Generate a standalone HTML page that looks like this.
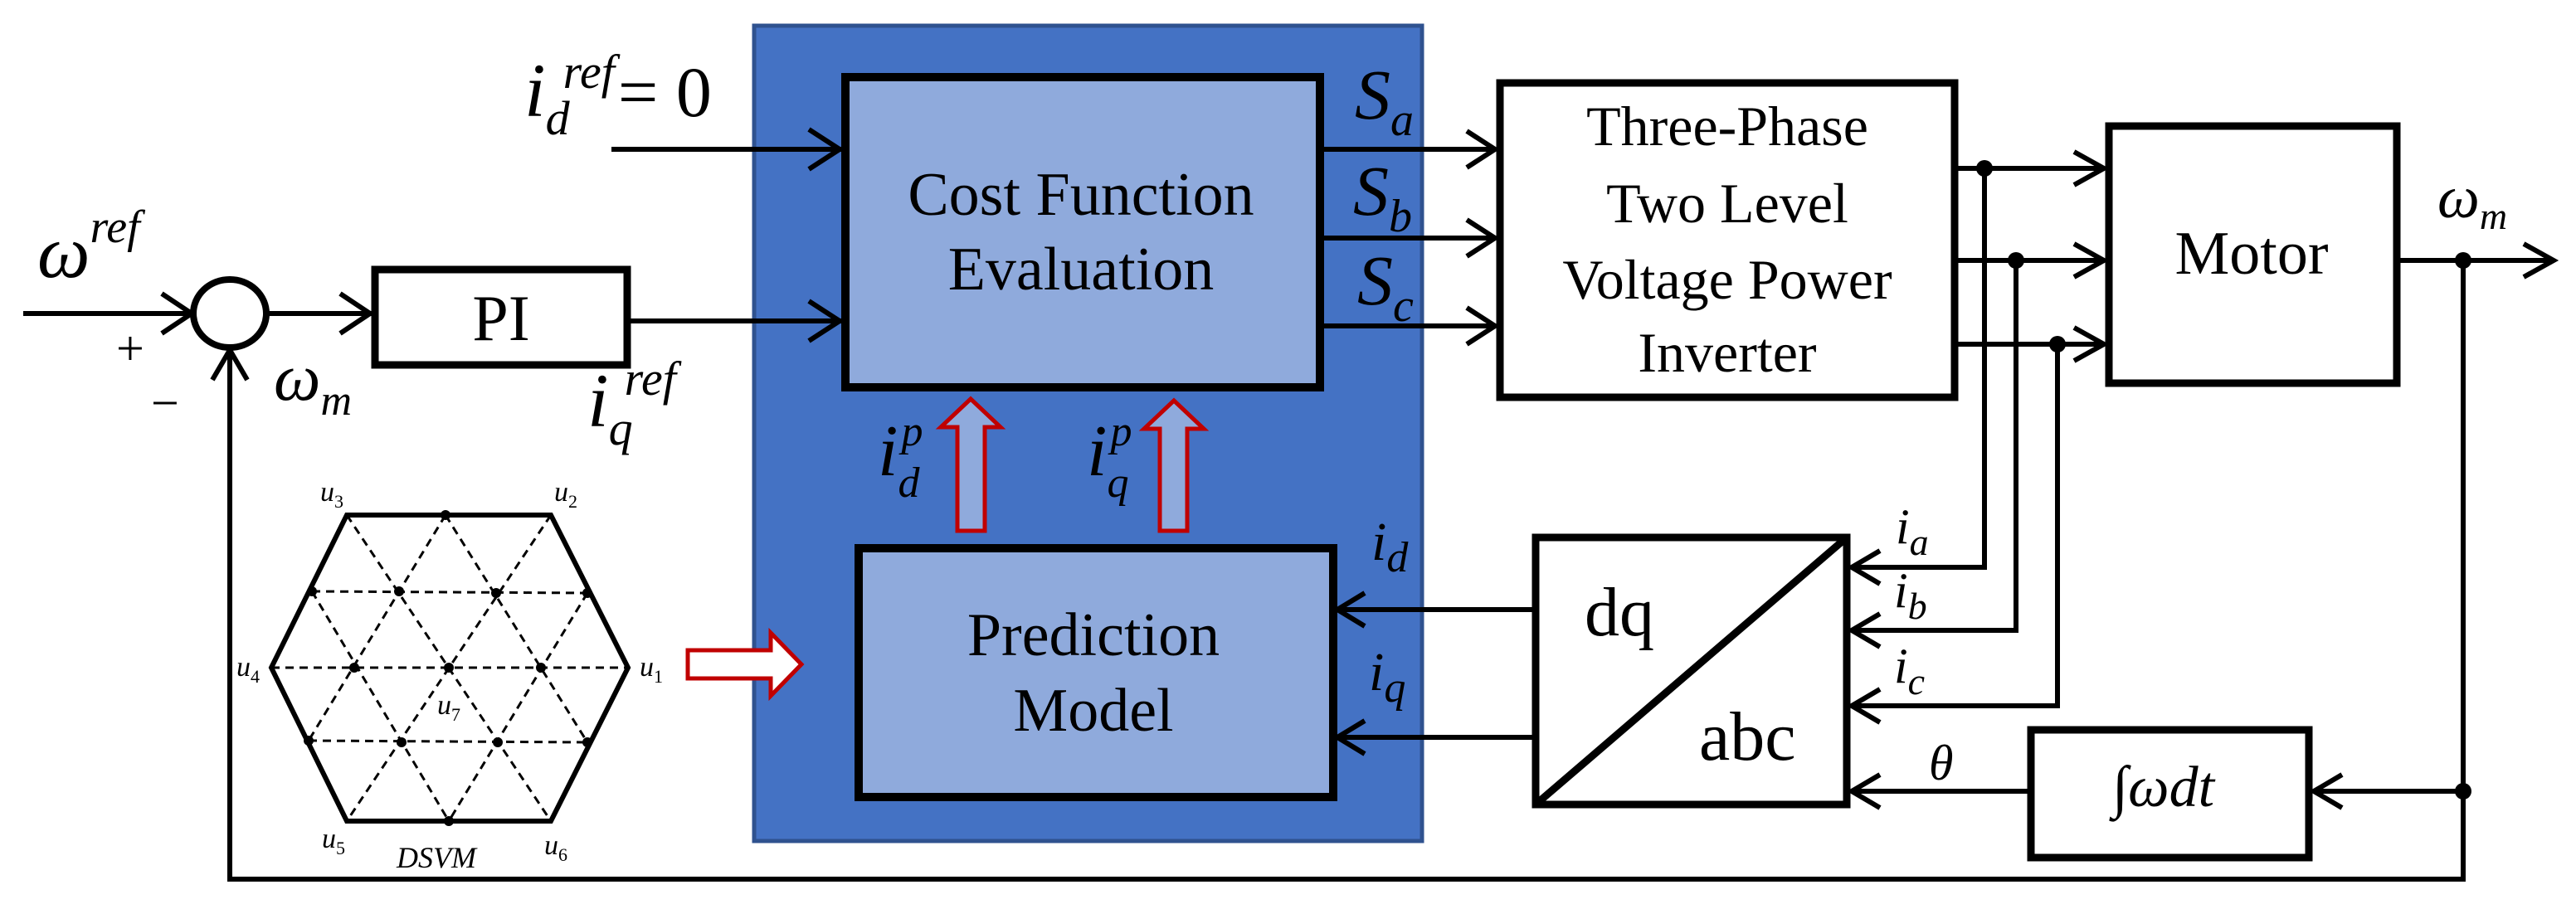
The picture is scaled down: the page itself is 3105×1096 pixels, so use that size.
<!DOCTYPE html>
<html><head><meta charset="utf-8"><style>
html,body{margin:0;padding:0;background:#fff;}
svg{display:block;}
text{font-family:"Liberation Serif","Times New Roman",serif;fill:#000;}
.it{font-style:italic;}
</style></head><body>
<svg width="3105" height="1096" viewBox="0 0 3105 1096" xmlns="http://www.w3.org/2000/svg" font-family="Liberation Serif, serif">
<g fill="none" stroke="#000" stroke-width="6" stroke-linecap="butt">
<rect x="909" y="31" width="805" height="983" fill="#4472C4" stroke="#2F528F" stroke-width="5"/>
<rect x="1019" y="93" width="572" height="374" fill="#8FAADC" stroke-width="10"/>
<rect x="1035" y="661" width="572" height="300" fill="#8FAADC" stroke-width="10"/>
<rect x="452" y="325" width="304" height="115" fill="#fff" stroke-width="9"/>
<ellipse cx="277" cy="378" rx="44" ry="41" stroke-width="8" fill="#fff"/>
<rect x="1808" y="100" width="548" height="379" fill="#fff" stroke-width="9"/>
<rect x="2542" y="152" width="347" height="310" fill="#fff" stroke-width="9"/>
<rect x="1851" y="648" width="375" height="322" fill="#fff" stroke-width="9"/>
<line x1="1851" y1="970" x2="2226" y2="648" stroke-width="9"/>
<rect x="2448" y="880" width="335" height="154" fill="#fff" stroke-width="9"/>

<line x1="28" y1="378" x2="233" y2="378"/>
<polyline points="195,354 231,378 195,402"/>
<line x1="321" y1="378" x2="448" y2="378"/>
<polyline points="410,354 446,378 410,402"/>
<line x1="756" y1="387" x2="1014" y2="387"/>
<polyline points="975,363 1012,387 975,411"/>
<line x1="737" y1="180" x2="1014" y2="180"/>
<polyline points="975,156 1012,180 975,204"/>
<polyline points="277,421 277,1060 2969,1060 2969,314"/>
<polyline points="256,458 277,422 298,458"/>
<line x1="1591" y1="180" x2="1803" y2="180"/>
<polyline points="1768,158 1802,180 1768,202"/>
<line x1="1591" y1="287" x2="1803" y2="287"/>
<polyline points="1768,265 1802,287 1768,309"/>
<line x1="1591" y1="393" x2="1803" y2="393"/>
<polyline points="1768,371 1802,393 1768,415"/>
<line x1="2356" y1="203" x2="2537" y2="203"/>
<polyline points="2500,183 2536,203 2500,223"/>
<line x1="2356" y1="314" x2="2537" y2="314"/>
<polyline points="2500,294 2536,314 2500,334"/>
<line x1="2356" y1="415" x2="2537" y2="415"/>
<polyline points="2500,395 2536,415 2500,435"/>
<polyline points="2392,203 2392,684 2232,684"/>
<polyline points="2266,664 2232,684 2266,704"/>
<polyline points="2430,314 2430,760 2232,760"/>
<polyline points="2266,740 2232,760 2266,780"/>
<polyline points="2480,415 2480,851 2232,851"/>
<polyline points="2266,831 2232,851 2266,871"/>
<line x1="2444" y1="954" x2="2232" y2="954"/>
<polyline points="2266,934 2232,954 2266,974"/>
<line x1="2969" y1="954" x2="2789" y2="954"/>
<polyline points="2823,934 2789,954 2823,974"/>
<line x1="2889" y1="314" x2="3078" y2="314"/>
<polyline points="3042,294 3078,314 3042,334"/>
<line x1="1847" y1="735" x2="1613" y2="735"/>
<polyline points="1645,715 1612,735 1645,755"/>
<line x1="1847" y1="889" x2="1613" y2="889"/>
<polyline points="1645,869 1612,889 1645,909"/>
</g>
<g fill="#000">
<circle cx="2392" cy="203" r="10"/><circle cx="2430" cy="314" r="10"/><circle cx="2480" cy="415" r="10"/>
<circle cx="2969" cy="314" r="10"/><circle cx="2969" cy="954" r="10"/>
</g>
<g fill="#8FAADC" stroke="#C00000" stroke-width="5">
<polygon points="1154,640 1187,640 1187,515 1206,515 1170,481 1134,515 1154,515"/>
<polygon points="1398,640 1431,640 1431,517 1451,517 1415,483 1379,517 1398,517"/>
<polygon points="829,784 929,784 929,763 966,801 929,839 929,818 829,818" fill="#fff"/>
</g>
<!-- hexagon -->
<g fill="none" stroke="#000">
<polygon points="327,805 418,621 664,621 757,805 664,990 418,990" stroke-width="6"/>
<g stroke-width="3" stroke-dasharray="10,7">
<line x1="376" y1="713" x2="708" y2="715"/>
<line x1="327" y1="805" x2="757" y2="805"/>
<line x1="372" y1="893" x2="708" y2="895"/>
<line x1="418" y1="621" x2="664" y2="990"/>
<line x1="664" y1="621" x2="418" y2="990"/>
<line x1="537" y1="621" x2="372" y2="893"/>
<line x1="537" y1="621" x2="708" y2="895"/>
<line x1="376" y1="713" x2="541" y2="990"/>
<line x1="708" y1="715" x2="541" y2="990"/>
</g>
</g>
<g fill="#000">
<circle cx="537" cy="621" r="6"/><circle cx="376" cy="713" r="6"/><circle cx="481" cy="713" r="6"/><circle cx="598" cy="715" r="6"/><circle cx="708" cy="715" r="6"/>
<circle cx="427" cy="805" r="6"/><circle cx="541" cy="805" r="6"/><circle cx="652" cy="805" r="6"/>
<circle cx="372" cy="893" r="6"/><circle cx="484" cy="895" r="6"/><circle cx="600" cy="895" r="6"/><circle cx="708" cy="895" r="6"/><circle cx="541" cy="990" r="6"/>
</g>
<g class="it" font-size="34" font-style="italic">
<text x="386" y="604">u<tspan font-size="22" dy="8" font-style="normal">3</tspan></text>
<text x="668" y="604">u<tspan font-size="22" dy="8" font-style="normal">2</tspan></text>
<text x="285" y="815">u<tspan font-size="22" dy="8" font-style="normal">4</tspan></text>
<text x="771" y="815">u<tspan font-size="22" dy="8" font-style="normal">1</tspan></text>
<text x="527" y="861">u<tspan font-size="22" dy="8" font-style="normal">7</tspan></text>
<text x="388" y="1022">u<tspan font-size="22" dy="8" font-style="normal">5</tspan></text>
<text x="656" y="1030">u<tspan font-size="22" dy="8" font-style="normal">6</tspan></text>
<text x="478" y="1046" font-size="36">DSVM</text>
</g>
<g>
<text x="604" y="410" text-anchor="middle" font-size="78">PI</text>
<text x="45" y="334" class="it" font-style="italic" font-size="90">ω<tspan font-size="56" dy="-42">ref</tspan></text>
<text x="140" y="440" font-size="60">+</text>
<text x="182" y="506" font-size="60">−</text>
<text x="330" y="482" class="it" font-style="italic" font-size="80">ω<tspan font-size="52" dy="18">m</tspan></text>
<text x="708" y="514" class="it" font-style="italic" font-size="92">i<tspan font-size="58" dy="22">q</tspan><tspan font-size="58" dy="-60" dx="-10">ref</tspan></text>
<text x="632" y="140" class="it" font-style="italic" font-size="92">i<tspan font-size="58" dy="22">d</tspan><tspan font-size="58" dy="-56" dx="-8">ref</tspan><tspan font-style="normal" font-size="86" dy="34" dx="4">= 0</tspan></text>
<text x="1303" y="259" text-anchor="middle" font-size="74">Cost Function</text>
<text x="1303" y="349" text-anchor="middle" font-size="74">Evaluation</text>
<text x="1318" y="790" text-anchor="middle" font-size="74">Prediction</text>
<text x="1318" y="881" text-anchor="middle" font-size="74">Model</text>
<text x="1633" y="143" class="it" font-style="italic" font-size="86">S<tspan font-size="56" dy="20">a</tspan></text>
<text x="1631" y="259" class="it" font-style="italic" font-size="86">S<tspan font-size="56" dy="20">b</tspan></text>
<text x="1636" y="367" class="it" font-style="italic" font-size="86">S<tspan font-size="56" dy="20">c</tspan></text>
<text x="1058" y="573" class="it" font-style="italic" font-size="88">i<tspan font-size="52" dy="26">d</tspan><tspan font-size="52" dy="-62" dx="-22">p</tspan></text>
<text x="1310" y="573" class="it" font-style="italic" font-size="88">i<tspan font-size="52" dy="26">q</tspan><tspan font-size="52" dy="-62" dx="-22">p</tspan></text>
<text x="1653" y="675" class="it" font-style="italic" font-size="66">i<tspan font-size="52" dy="14">d</tspan></text>
<text x="1650" y="832" class="it" font-style="italic" font-size="66">i<tspan font-size="52" dy="14">q</tspan></text>
<text x="2082" y="175" text-anchor="middle" font-size="68">Three-Phase</text>
<text x="2082" y="268" text-anchor="middle" font-size="68">Two Level</text>
<text x="2082" y="360" text-anchor="middle" font-size="68">Voltage Power</text>
<text x="2082" y="448" text-anchor="middle" font-size="68">Inverter</text>
<text x="2714" y="330" text-anchor="middle" font-size="74">Motor</text>
<text x="2938" y="262" class="it" font-style="italic" font-size="72">ω<tspan font-size="46" dy="14">m</tspan></text>
<text x="1910" y="766" font-size="84">dq</text>
<text x="2048" y="916" font-size="84">abc</text>
<text x="2285" y="655" class="it" font-style="italic" font-size="60">i<tspan font-size="46" dy="14">a</tspan></text>
<text x="2283" y="732" class="it" font-style="italic" font-size="60">i<tspan font-size="46" dy="14">b</tspan></text>
<text x="2283" y="823" class="it" font-style="italic" font-size="60">i<tspan font-size="46" dy="14">c</tspan></text>
<text x="2325" y="940" class="it" font-style="italic" font-size="60">θ</text>
<text x="2546" y="972" class="it" font-style="italic" font-size="70">∫ωdt</text>
</g>
</svg>
</body></html>
